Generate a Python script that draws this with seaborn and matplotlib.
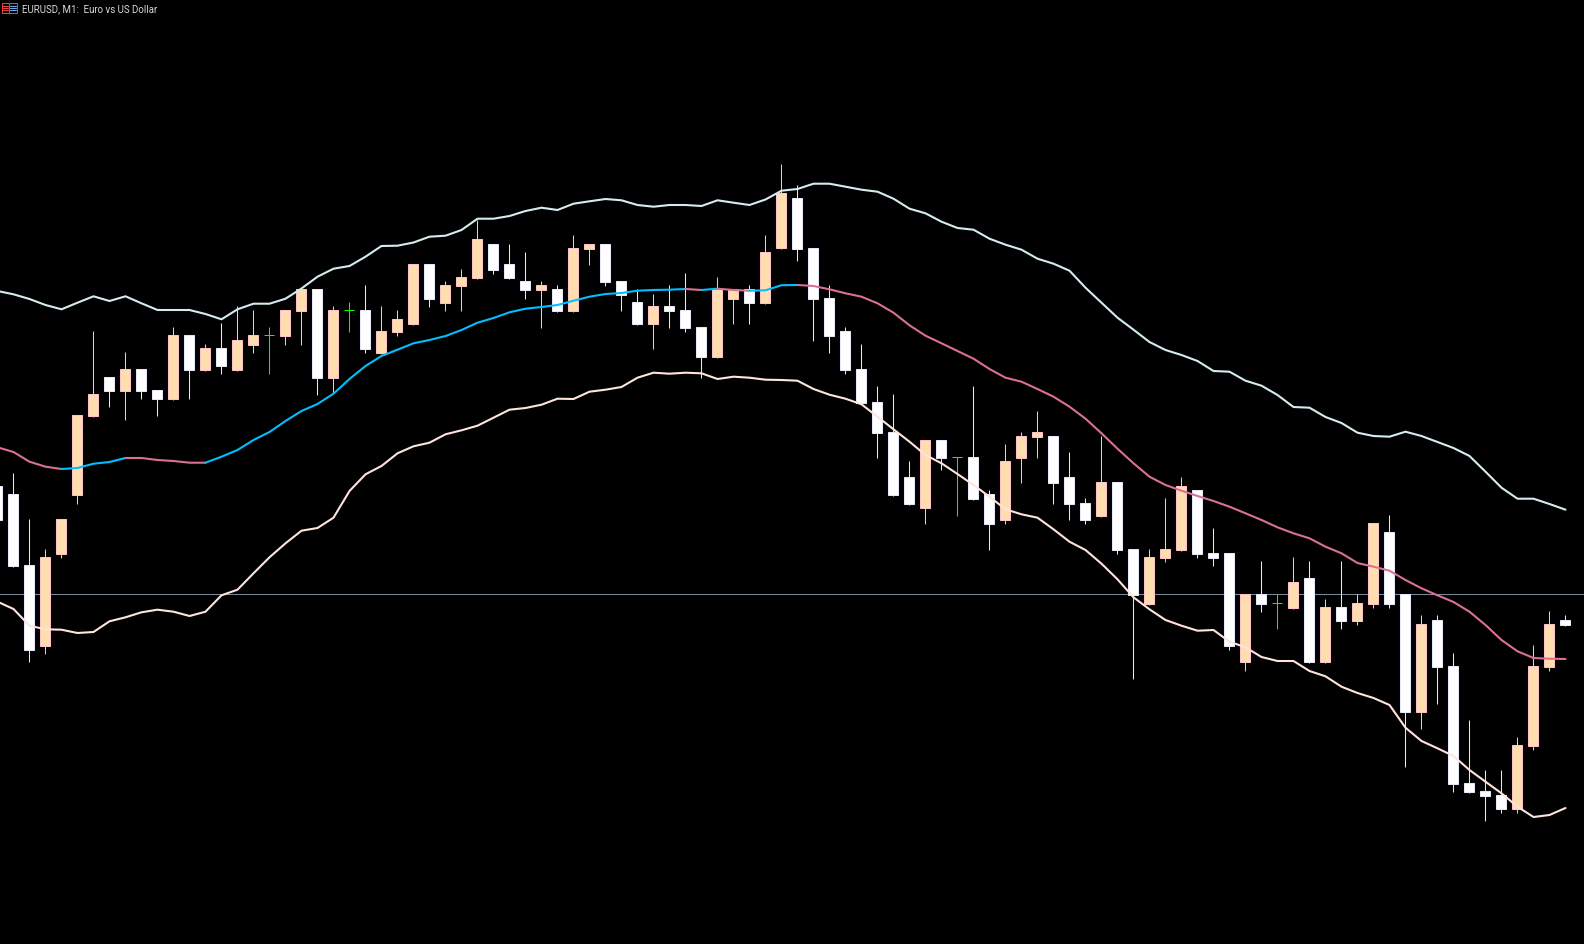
import numpy as np
import pandas as pd
import matplotlib
matplotlib.use("Agg")
import matplotlib.pyplot as plt
from matplotlib.patches import Rectangle
from matplotlib.transforms import ScaledTranslation
import seaborn as sns

# levels are chart rows (no price scale is shown)
kinds = list("wwwbbbbwbw" "wbwbwbbdbb" "wbdwbbbwbb" "bwwwbwbbww" "wbwwwbbwbb"
             "wwwwwwwwbw" "dwwbbbwwwb" "wwbbbwwwbw" "dbwbwbbwwb" "wwwwwbbbw")

body_top = [486, 494, 565, 557, 519, 415, 394, 377, 369, 369,
            390, 335, 335, 348, 348, 340, 335, 335, 310, 289,
            289, 310, 310, 310, 331, 319, 264, 264, 285, 277,
            239, 244, 264, 281, 285, 289, 248, 244, 244, 281,
            302, 306, 306, 310, 327, 289, 289, 289, 252, 193,
            198, 248, 298, 331, 369, 402, 432, 477, 440, 440,
            457, 457, 494, 461, 436, 432, 436, 477, 503, 482,
            482, 549, 557, 549, 486, 490, 553, 553, 594, 594,
            603, 582, 578, 607, 607, 603, 523, 532, 594, 624,
            620, 666, 783, 791, 795, 745, 666, 624, 620]

body_bot = [521, 567, 651, 647, 555, 496, 417, 392, 392, 392,
            400, 400, 371, 371, 367, 371, 346, 335, 337, 312,
            379, 379, 310, 350, 354, 333, 325, 300, 304, 287,
            279, 271, 279, 291, 291, 312, 312, 250, 283, 296,
            325, 325, 312, 329, 358, 358, 300, 304, 304, 249,
            250, 300, 337, 371, 404, 434, 496, 505, 509, 459,
            457, 500, 525, 521, 459, 438, 484, 505, 521, 517,
            551, 596, 605, 559, 551, 555, 559, 647, 663, 605,
            603, 609, 663, 663, 622, 622, 605, 605, 713, 713,
            668, 785, 793, 797, 810, 810, 747, 668, 626]

wick_high = [486, 473, 519, 549, 519, 415, 331, 377, 352, 369,
             390, 327, 335, 344, 323, 306, 310, 327, 310, 289,
             289, 306, 302, 285, 306, 310, 264, 264, 281, 269,
             220, 244, 244, 252, 281, 285, 235, 244, 244, 281,
             289, 294, 285, 273, 327, 277, 289, 285, 235, 164,
             185, 248, 285, 327, 344, 386, 394, 461, 440, 440,
             457, 386, 490, 444, 432, 411, 436, 452, 498, 436,
             482, 549, 549, 498, 477, 490, 528, 553, 594, 561,
             594, 557, 561, 599, 561, 594, 523, 515, 594, 615,
             615, 653, 720, 770, 770, 737, 645, 611, 615]

wick_low = [521, 567, 662, 654, 558, 504, 417, 407, 420, 399,
            416, 400, 399, 371, 374, 371, 353, 374, 345, 345,
            395, 393, 332, 353, 354, 336, 325, 307, 311, 311,
            279, 274, 279, 299, 328, 312, 312, 265, 286, 311,
            325, 349, 328, 332, 378, 358, 324, 324, 304, 249,
            261, 341, 353, 374, 404, 458, 496, 505, 524, 470,
            516, 500, 550, 524, 483, 458, 504, 520, 524, 517,
            554, 679, 605, 562, 551, 558, 566, 650, 671, 612,
            629, 609, 663, 663, 629, 625, 608, 608, 767, 729,
            704, 792, 793, 821, 813, 813, 750, 671, 626]

band_upper = [291, 294.3, 299, 305, 309.3, 302.7, 296.3, 301, 296.3, 303.3,
              310, 310, 310, 314, 319.3, 309.3, 303.7, 303.7, 298.7, 288.5,
              276.7, 268.7, 266, 256.7, 246, 245.7, 242.5, 236.7, 235.7, 230,
              218.7, 218.7, 216, 211, 207.7, 210, 203.7, 201.3, 199, 200.3,
              205, 206.7, 205, 205, 206, 200.3, 202.7, 205, 199.5, 190.7,
              189, 183.7, 183.7, 186.7, 189.7, 191.7, 198.7, 208.7, 213.3, 221.7,
              228, 229.7, 238.7, 244.7, 249.7, 258.7, 263.7, 270.7, 287.7, 302.7,
              317.7, 329.7, 342, 350, 355, 361, 371, 371.7, 380.7, 385.7,
              395, 407, 407.7, 417, 423, 432.7, 436, 436.7, 431.7, 436,
              442, 448, 456, 471.7, 487.7, 498.7, 498.7, 504, 509.7]

band_mid = [447.3, 452, 461.7, 466.7, 469, 468, 463.7, 462, 458, 458,
            460, 461, 462.7, 462.7, 456.7, 450, 440, 432, 421, 411,
            404, 393.7, 379, 366, 356, 349.7, 343.3, 340, 336, 330,
            322.7, 318, 312.3, 308.7, 307, 305, 300.7, 296.7, 294, 293,
            290.7, 290, 289.7, 289, 290, 288.7, 290, 290.7, 290.3, 285.2,
            285, 286, 289.3, 293.3, 296.7, 303.3, 312.7, 325.3, 335.7, 343.3,
            351, 358.7, 369, 377.7, 381.7, 389, 396.7, 406.7, 418.7, 433.3,
            448.7, 463.3, 476.7, 485, 490.7, 496, 501, 506.7, 513.3, 520,
            527.3, 533.3, 538.3, 546.7, 553.3, 563, 566.7, 570.7, 580, 588.3,
            595.3, 602, 611.7, 625, 640, 651.3, 658, 658.7, 659]

band_lower = [601.7, 609, 625.7, 629.3, 629.7, 633, 632, 621.3, 617.3, 612.3,
              609.7, 611.7, 616, 611.7, 595.3, 589.7, 573.3, 557.3, 543.3, 530.7,
              528, 517.7, 491, 474.3, 466, 453.3, 446.3, 442.7, 434.3, 430.3,
              425.7, 417.7, 409.7, 408, 404.7, 398.7, 399, 391.7, 389.7, 387,
              377.7, 372.7, 373.7, 372.7, 373.3, 379, 376.7, 377.7, 379.7, 380,
              380.7, 389, 394.7, 398.7, 404.3, 416.7, 429.3, 441.7, 455, 463.3,
              474, 485, 496.7, 509.3, 514.3, 517.7, 529.3, 541.7, 550, 563.7,
              579.3, 597.3, 609.3, 620, 625.7, 630.7, 630, 641.7, 647.3, 657,
              661, 661, 671, 676.3, 686.7, 693, 698, 705, 727.7, 741,
              748.3, 756, 770, 781.7, 793.3, 806.7, 817, 815, 808]

last_price = 594.5
title = "EURUSD, M1:  Euro vs US Dollar"

sns.set_style("dark", {"axes.facecolor": "black", "figure.facecolor": "black"})
plt.rcParams['font.family'] = ['Roboto', 'DejaVu Sans']

df = pd.DataFrame({"kind": kinds, "top": body_top, "bot": body_bot,
                   "high": wick_high, "low": wick_low,
                   "upper": band_upper, "mid": band_mid, "lower": band_lower})
df["bar"] = np.arange(len(df))

fig = plt.figure(figsize=(15.84, 9.44), dpi=100, facecolor="black")
ax = fig.add_axes([0, 0, 1, 1])
ax.set_facecolor("black")
ax.set_xlim(2.5 / 16, (1584 + 2.5) / 16)
ax.set_ylim(944, 0)
ax.axis("off")

# snapped marks land half a pixel off otherwise
snap = ax.transData + ScaledTranslation(-0.5 / 100, 0.5 / 100, fig.dpi_scale_trans)

ax.hlines(last_price, 0, len(df) + 1, color="#778899", lw=0.75, zorder=1, transform=snap)

# candles
wick_colors = {"b": "#FFC0CB", "w": "#E6E6FA", "d": "#00FF00"}
for kind, rows in df.groupby("kind"):
    ax.vlines(rows["bar"], rows["high"], rows["low"], color=wick_colors[kind], lw=0.75,
              zorder=2, transform=snap)

ups = df[df["kind"] == "b"]
downs = df[df["kind"] == "w"]
dojis = df[df["kind"] == "d"]
body_w = 10 / 16
up_bars = ax.bar(ups["bar"], ups["bot"] - ups["top"] - 1, bottom=ups["top"] + 0.5, width=body_w,
                 facecolor="#FFDEAD", edgecolor="#FFC0CB", lw=0.75, zorder=3)
down_bars = ax.bar(downs["bar"], downs["bot"] - downs["top"] - 1, bottom=downs["top"] + 0.5, width=body_w,
                   facecolor="white", edgecolor="#E6E6FA", lw=0.75, zorder=3)
for p in list(up_bars) + list(down_bars):
    p.set_transform(snap)
ax.hlines(dojis["top"], dojis["bar"] - body_w / 2, dojis["bar"] + body_w / 2,
          color="#00FF00", lw=0.75, zorder=3, transform=snap)

# bands
sns.lineplot(data=df, x="bar", y="upper", ax=ax, color="#D4ECEF", lw=1.5, zorder=4, legend=False)
sns.lineplot(data=df, x="bar", y="lower", ax=ax, color="#FFE4DC", lw=1.5, zorder=4, legend=False)

# middle line changes colour with direction
rising = df["mid"].diff().shift(-1) < 0
run_id = (rising != rising.shift()).cumsum()
for _, run in df.groupby(run_id):
    end = min(run.index[-1] + 1, len(df) - 1)
    seg = df.loc[run.index[0]:end]
    col = "#00BFFF" if rising[run.index[0]] else "#DB7093"
    sns.lineplot(data=seg, x="bar", y="mid", ax=ax, color=col, lw=1.5, zorder=5, legend=False)

ax.set_xlim(2.5 / 16, (1584 + 2.5) / 16)
ax.set_ylim(944, 0)
ax.axis("off")

# header: small window icon and symbol text
hdr = fig.add_axes([0, 0, 1, 1], facecolor="none")
hdr.set_xlim(0, 1584)
hdr.set_ylim(944, 0)
hdr.axis("off")
hdr.add_patch(Rectangle((2, 3), 7, 10, fill=False, ec="#E8453C", lw=0.75))
hdr.add_patch(Rectangle((9, 3), 8, 10, fill=False, ec="#2F7FE0", lw=0.75))
for row in (6, 8, 10):
    hdr.plot([3, 8], [row, row], color="#E8453C", lw=0.75)
    hdr.plot([10, 16], [row, row], color="#6FA8E8", lw=0.75)
hdr.text(22, 9, title, color="#D8D8D8", fontsize=7, va="center", ha="left")

fig.savefig("out.png", dpi=100, facecolor="black")
